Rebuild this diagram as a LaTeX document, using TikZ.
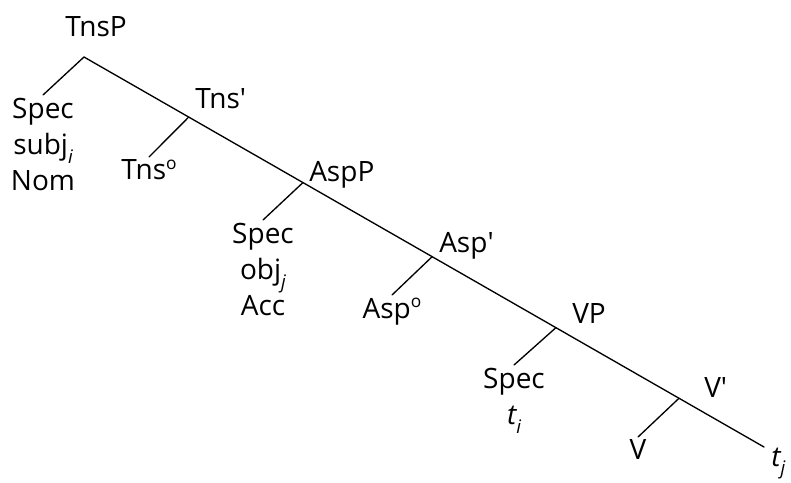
\documentclass[tikz,border=0pt]{standalone}
\usepackage{fontspec}
\setmainfont{Open Sans}
\usetikzlibrary{calc}
\newcommand{\idx}[1]{\raisebox{-0.32em}{\fontsize{14}{14}\selectfont\itshape #1}}
\newcommand{\hd}{\raisebox{0.36em}{\fontsize{13}{13}\selectfont o}}
\newcommand{\xbar}{\textquotesingle}

\begin{document}
\begin{tikzpicture}[
    x=0.75pt,y=-0.75pt,line cap=round,
    lbl/.style={font=\fontsize{21}{27}\selectfont,inner sep=0pt,anchor=base west},
    leaf/.style={font=\fontsize{21}{27}\selectfont,align=center,anchor=north,
                 inner xsep=0pt,inner ysep=2pt},
    edge/.style={line width=1pt}]
  \useasboundingbox (0,0) rectangle (791,482);
  % --- spine: TnsP down to the trace of the verb
  \coordinate (top) at (84,57);
  \coordinate (end) at (764,447);
  \coordinate (tnsbar) at ($(top)!0.154!(end)$);
  \coordinate (aspp)   at ($(top)!0.322!(end)$);
  \coordinate (aspbar) at ($(top)!0.512!(end)$);
  \coordinate (vp)     at ($(top)!0.694!(end)$);
  \coordinate (vbar)   at ($(top)!0.875!(end)$);
  % phrase labels
  \node[lbl,anchor=base] (tnsplab) at (96,36) {TnsP};
  \node[lbl] (tnsbarlab) at (195,108) {Tns\xbar};
  \node[lbl] (aspplab)   at (309,181) {AspP};
  \node[lbl] (aspbarlab) at (439,252) {Asp\xbar};
  \node[lbl] (vplab)     at (572,323) {VP};
  \node[lbl] (vbarlab)   at (704,397) {V\xbar};
  \node[lbl] (tj)        at (771,466) {\itshape t\idx{j}};
  % leaves
  \node[leaf] (specsubj) at (43,95)   {Spec\\subj\idx{i}\\Nom};
  \node[leaf] (tnshead)  at (149,157) {Tns\hd};
  \node[leaf] (specobj)  at (263,220) {Spec\\obj\idx{j}\\Acc};
  \node[leaf] (asphead)  at (392,295) {Asp\hd};
  \node[leaf] (specv)    at (514,365) {Spec\\{\itshape t}\idx{i}};
  \node[leaf] (vhead)    at (638,437) {V};
  % branches
  \draw[edge] (top) -- (end);
  \draw[edge] (top) -- (specsubj.north);
  \draw[edge] (tnsbar) -- (tnshead.north);
  \draw[edge] (aspp) -- (specobj.north);
  \draw[edge] (aspbar) -- (asphead.north);
  \draw[edge] (vp) -- (specv.north);
  \draw[edge] (vbar) -- (vhead.north);
\end{tikzpicture}
\end{document}
